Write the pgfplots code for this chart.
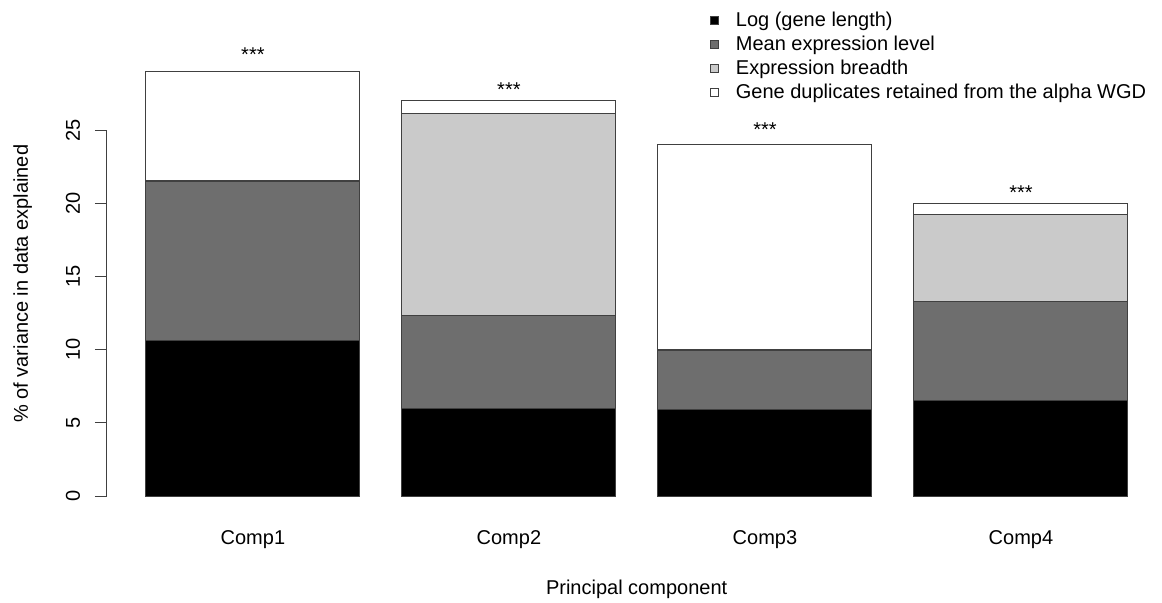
\documentclass[border=0pt]{standalone}
\usepackage{fontspec}
\setmainfont{Liberation Sans}
\usepackage{pgfplots}
\pgfplotsset{compat=1.18}
\definecolor{cLog}{HTML}{000000}
\definecolor{cMean}{HTML}{6E6E6E}
\definecolor{cBreadth}{HTML}{CACACA}
\definecolor{cDup}{HTML}{FFFFFF}
\definecolor{lineC}{HTML}{404040}
\pgfplotsset{
  mylegend/.style={legend image code/.code={
    \draw[##1, draw=lineC, line width=0.5pt] (0pt,-2pt) rectangle (4pt,2pt);
    \path[draw=none, fill=none] (0pt,0pt) rectangle (11.5pt,0.1pt);}},
}
\begin{document}
\begin{tikzpicture}
\useasboundingbox (-53.5pt,-45pt) rectangle (527.5pt,256.5pt);
\begin{axis}[
  at={(0,0)}, anchor=south west,
  x=128pt, y=7.32pt,
  xmin=-0.570, xmax=3.543, ymin=-1.16, ymax=30.16,
  clip=false,
  ybar stacked, bar width=107pt,
  axis x line*=bottom, axis y line*=left,
  x axis line style={draw=none}, y axis line style={draw=none},
  xtick={0,1,2,3},
  xticklabels={Comp1,Comp2,Comp3,Comp4},
  x tick style={draw=none},
  ytick={0,5,10,15,20,25},
  yticklabels={0,5,10,15,20,25},
  tick align=outside, major tick length=6pt,
  y tick style={lineC, line width=0.5pt},
  yticklabel style={rotate=90, anchor=base},
  yticklabel shift=7.5pt,
  xticklabel style={anchor=base},
  xticklabel shift=10pt,
  every axis y label/.style={at={(axis description cs:-0.08,0.5)}, rotate=90, anchor=center},
  every axis x label/.style={at={(axis description cs:0.503,0)}, anchor=base, yshift=-41pt},
  ylabel={\% of variance in data explained},
  xlabel={Principal component},
  legend style={at={(axis description cs:0.5727,1.102)}, anchor=north west,
    draw=none, fill=none, inner sep=0pt, row sep=0pt,
    nodes={inner sep=1pt, text height=8pt, text depth=2pt}},
  legend cell align=left,
]
\addplot[fill=cLog, draw=lineC, line width=0.5pt, mylegend] coordinates {(0,10.6) (1,6.0) (2,5.9) (3,6.5)};
\addplot[fill=cMean, draw=lineC, line width=0.5pt, mylegend] coordinates {(0,10.85) (1,6.3) (2,4.05) (3,6.8)};
\addplot[fill=cBreadth, draw=lineC, line width=0.5pt, mylegend] coordinates {(0,0.1) (1,13.85) (2,0.05) (3,5.95)};
\addplot[fill=cDup, draw=lineC, line width=0.5pt, mylegend] coordinates {(0,7.45) (1,0.85) (2,14.0) (3,0.75)};
\legend{Log (gene length), Mean expression level, Expression breadth, Gene duplicates retained from the alpha WGD}
\draw[lineC, line width=0.5pt] (axis cs:-0.570,0) -- (axis cs:-0.570,25);
\node[yshift=-2pt] at (axis cs:0,30.4) {***};
\node[yshift=-2pt] at (axis cs:1,28.0) {***};
\node[yshift=-2pt] at (axis cs:2,25.3) {***};
\node[yshift=-2pt] at (axis cs:3,21.0) {***};
\end{axis}
\end{tikzpicture}
\end{document}
